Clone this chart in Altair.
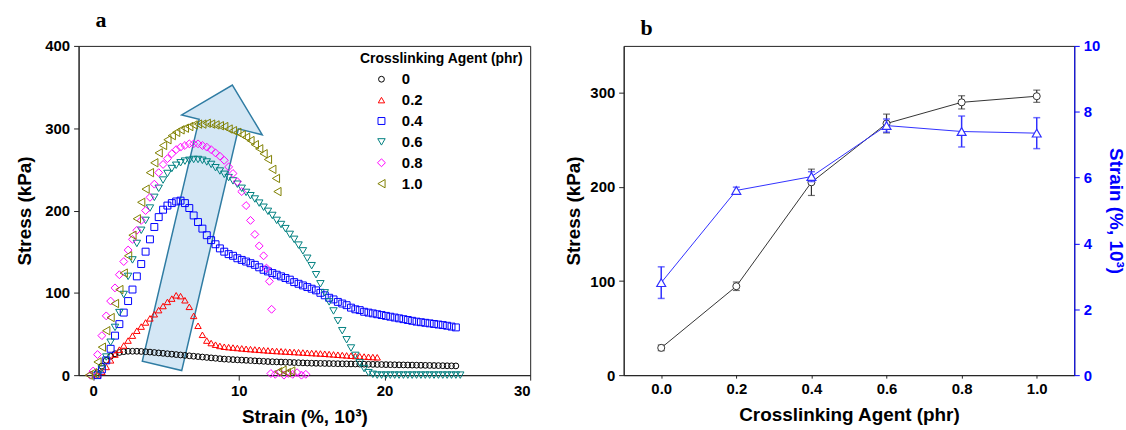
import altair as alt
import pandas as pd

N = None

# ---------------- Panel a: stress-strain curves ----------------
STRAIN_GRID = [0.0, 0.3, 0.6, 0.9, 1.2, 1.5, 1.8, 2.1, 2.4, 2.7,
               3.0, 3.3, 3.6, 3.9, 4.2, 4.5, 4.8, 5.1, 5.4, 5.7,
               6.0, 6.3, 6.6, 6.9, 7.2, 7.5, 7.8, 8.1, 8.4, 8.7,
               9.0, 9.3, 9.6, 9.9, 10.2, 10.5, 10.8, 11.1, 11.4, 11.7,
               12.0, 12.3, 12.6, 12.9, 13.2, 13.5, 13.8, 14.1, 14.4, 14.7,
               15.0, 15.3, 15.6, 15.9, 16.2, 16.5, 16.8, 17.1, 17.4, 17.7,
               18.0, 18.3, 18.6, 18.9, 19.2, 19.5, 19.8, 20.1, 20.4, 20.7,
               21.0, 21.3, 21.6, 21.9, 22.2, 22.5, 22.8, 23.1, 23.4, 23.7,
               24.0, 24.3, 24.6, 24.9, 25.2]

STRESS_0 = [N, 3, 11, 18, 23, 26, 27.5, 28.5, 29, 29,
            29, 28.8, 28.5, 28, 27.5, 27, 26.5, 26, 25.5, 25,
            24.5, 24, 23.5, 23, 22.5, 22, 21.5, 21, 20.5, 20,
            19.5, 19.2, 18.9, 18.6, 18.3, 18, 17.7, 17.4, 17.1, 16.8,
            16.5, 16.3, 16.1, 15.9, 15.7, 15.5, 15.3, 15.1, 14.9, 14.7,
            14.5, 14.4, 14.3, 14.2, 14.1, 14, 13.9, 13.8, 13.7, 13.6,
            13.5, 13.4, 13.3, 13.2, 13.1, 13, 12.9, 12.8, 12.7, 12.6,
            12.5, 12.4, 12.3, 12.2, 12.1, 12, 11.9, 11.8, 11.7, 11.6,
            11.5, 11.4, 11.3, 11.2, N]

STRESS_02 = [N, 0, 4, 10, 18, 25, 31, 36, 42, 48,
             54, 59, 64, 69, 74, 79, 84, 89, 93, 97,
             96, 91, 83, 72, 60, 49, 42, 39, 37, 35.5,
             34.5, 34, 33.5, 33, 32.5, 32, 31.6, 31.2, 30.8, 30.4,
             30, 29.6, 29.3, 29, 28.7, 28.4, 28.1, 27.8, 27.5, 27.2,
             26.9, 26.6, 26.3, 26, 25.6, 25.2, 24.8, 24.4, 24, 23.6,
             23.2, 22.9, 22.6, 22.3, 22, 21.7, N, N, N, N,
             N, N, N, N, N, N, N, N, N, N,
             N, N, N, N, N]

STRESS_04 = [N, 0, 7, 18, 32, 48, 62, 76, 90, 104,
             120, 135, 150, 165, 180, 192, 201, 206, 209, 211,
             212, 209, 203, 194, 186, 178, 170, 164, 159, 154,
             150, 147, 145, 142, 140, 138, 136, 134, 131, 128,
             126, 124, 122, 120, 118, 116, 113, 111, 109, 107,
             105, 103, 100, 97, 94, 92, 89, 87, 85, 82,
             80, 79, 77, 76, 75, 74, 73, 72, 71, 70,
             69, 68, 67, 66, 65, 64.3, 63.6, 62.9, 62.2, 61.5,
             60.8, 60, 59, 58, N]

STRESS_06 = [N, 0, 8, 22, 40, 58, 76, 98, 120, 140,
             160, 176, 188, 203, 216, 227, 237, 245, 251, 255,
             258, 260, 261, 262, 262, 261, 259, 256, 252, 248,
             244, 240, 236, 232, 227, 222, 218, 214, 209, 204,
             199, 194, 188, 183, 178, 171, 165, 158, 151, 142,
             133, 122, 111, 100, 89, 78, 66, 54, 43, 33,
             24, 15, 8, 3, 1, 0, 0, 0, 0, 0,
             0, 0, 0, 0, 0, 0, 0, 0, 0, 0,
             0, 0, 0, 0, 0]

STRESS_08 = [5, 25, 48, 72, 90, 106, 122, 138, 152, 165,
             176, 188, 200, 216, 232, 246, 256, 263, 269, 274,
             277, 279, 281, 281, 281, 279, 277, 274, 270, 266,
             261, 253, 245, 235, 223, 206, 188, 171, 157, 145,
             N, N, N, N, N, N, N, N, N, N,
             N, N, N, N, N, N, N, N, N, N,
             N, N, N, N, N, N, N, N, N, N,
             N, N, N, N, N, N, N, N, N, N,
             N, N, N, N, N]

STRESS_10 = [3, 16, 34, 54, 70, 87, 104, 124, 145, 170,
             190, 210, 226, 246, 258, 270, 279, 286, 291, 295,
             298, 300, 302, 304, 305, 305, 306, 305, 304, 303,
             302, 299, 297, 295, 292, 289, 285, 280, 275, 269,
             262, 250, N, N, N, N, N, N, N, N,
             N, N, N, N, N, N, N, N, N, N,
             N, N, N, N, N, N, N, N, N, N,
             N, N, N, N, N, N, N, N, N, N,
             N, N, N, N, N]

# scattered points off the main grid (ends of curves, fragments near zero)
EXTRA_08_STRAIN = [-0.2, 11.9, 12.1, 12.25, 12.2, 12.5, 12.8, 13.1, 13.4, 13.7, 14.0, 14.3, 14.6]
EXTRA_08_STRESS = [0, 130, 114, 80, 2, 1, 3, 0, 2, 1, 3, 0, 1]
EXTRA_10_STRAIN = [-0.3, 12.55, 12.65, 12.7, 13.0, 13.3, 13.6]
EXTRA_10_STRESS = [0, 239, 223, 4, 6, 3, 5]

AGENT_LABELS = ["0", "0.2", "0.4", "0.6", "0.8", "1.0"]
AGENT_COLORS = ["#000000", "#ff0000", "#0000ff", "#008080", "#ff00ff", "#808000"]
AGENT_SHAPES = ["circle", "triangle-up", "square", "triangle-down", "diamond", "triangle-left"]
AGENT_SIZES = [34, 70, 52, 70, 62, 70]

# decorative arrow (centre in data units)
ARROW_STRAIN = [7.51]
ARROW_STRESS = [179]
ARROW_PATH = ("M0.209,-1 L0.418,-0.652 L0.251,-0.693 L-0.146,1 "
              "L-0.422,0.934 L-0.024,-0.760 L-0.146,-0.791 Z")

# ---------------- Panel b: summary ----------------
AGENT_B = [0.0, 0.2, 0.4, 0.6, 0.8, 1.0]
STRESS_B = [29, 94.5, 205, 267.5, 290, 296.5]
STRESS_B_ERR = [3, 4.5, 14, 10, 7, 6.5]
STRAIN_B = [2.81, 5.61, 6.03, 7.58, 7.40, 7.35]
STRAIN_B_ERR = [0.48, 0.1, 0.15, 0.2, 0.47, 0.47]

# ---------------- build tables ----------------
series = [STRESS_0, STRESS_02, STRESS_04, STRESS_06, STRESS_08, STRESS_10]
rows = []
for k, (lab, vals) in enumerate(zip(AGENT_LABELS, series)):
    for s, v in zip(STRAIN_GRID, vals):
        if v is not None:
            rows.append({"strain": s, "stress": v, "agent": lab, "k": k})
    if lab == "0.8":
        for s, v in zip(EXTRA_08_STRAIN, EXTRA_08_STRESS):
            rows.append({"strain": s, "stress": v, "agent": lab, "k": k})
    if lab == "1.0":
        for s, v in zip(EXTRA_10_STRAIN, EXTRA_10_STRESS):
            rows.append({"strain": s, "stress": v, "agent": lab, "k": k})
df_a = pd.DataFrame(rows)
df_arrow = pd.DataFrame({"strain": ARROW_STRAIN, "stress": ARROW_STRESS})

df_b = pd.DataFrame({
    "agent": AGENT_B,
    "stress": STRESS_B,
    "s_lo": [v - e for v, e in zip(STRESS_B, STRESS_B_ERR)],
    "s_hi": [v + e for v, e in zip(STRESS_B, STRESS_B_ERR)],
    "strain": STRAIN_B,
    "e_lo": [v - e for v, e in zip(STRAIN_B, STRAIN_B_ERR)],
    "e_hi": [v + e for v, e in zip(STRAIN_B, STRAIN_B_ERR)],
})

FONT = "Liberation Sans"
W, H = 454, 331

x_a = alt.X("strain:Q", scale=alt.Scale(domain=[-1, 30], nice=False, zero=False),
            axis=alt.Axis(values=[0, 10, 20, 30], title="Strain (%, 10³)",
                          labelPadding=3, titlePadding=10))
y_a = alt.Y("stress:Q", scale=alt.Scale(domain=[0, 400], nice=False),
            axis=alt.Axis(values=[0, 100, 200, 300, 400], title="Stress (kPa)",
                          labelPadding=4, titlePadding=10))

arrow = alt.Chart(df_arrow).mark_point(
    shape=ARROW_PATH, size=82369, filled=True, fill="#d4e7f5",
    stroke="#2f7ca3", strokeWidth=1.5, opacity=1
).encode(x=x_a, y=y_a)

legend_def = alt.Legend(
    title="Crosslinking Agent (phr)", orient="top-right", offset=5,
    titleFont=FONT, titleFontSize=14, titleFontWeight="bold", titleColor="black",
    labelFont=FONT, labelFontSize=15, labelFontWeight="bold", labelColor="black",
    symbolSize=40, symbolStrokeWidth=1, symbolOffset=14, labelOffset=13,
    rowPadding=5, titlePadding=6, padding=1
)

points = alt.Chart(df_a).mark_point(filled=False, strokeWidth=1, opacity=1).encode(
    x=x_a, y=y_a,
    color=alt.Color("agent:N", scale=alt.Scale(domain=AGENT_LABELS, range=AGENT_COLORS),
                    legend=legend_def),
    shape=alt.Shape("agent:N", scale=alt.Scale(domain=AGENT_LABELS, range=AGENT_SHAPES),
                    legend=legend_def),
    size=alt.Size("agent:N", scale=alt.Scale(domain=AGENT_LABELS, range=AGENT_SIZES),
                  legend=None),
    order=alt.Order("k:Q"),
)

panel_a = alt.layer(arrow, points).properties(
    width=W, height=H,
    title=alt.TitleParams("a", anchor="start", frame="group", font="Liberation Serif",
                          fontSize=22, fontWeight="bold", color="black",
                          baseline="alphabetic", offset=-10, dx=17)
)

# panel b
BLACK_B = "#333333"
BLUE_B = "#3030ff"
x_b = alt.X("agent:Q", scale=alt.Scale(domain=[-0.1, 1.1], nice=False, zero=False),
            axis=alt.Axis(values=AGENT_B, format=".1f", title="Crosslinking Agent (phr)",
                          labelPadding=3, titlePadding=10, tickSize=3))
left_axis = alt.Axis(values=[0, 100, 200, 300], title="Stress (kPa)",
                     labelPadding=4, titlePadding=6)
right_axis = alt.Axis(values=[0, 2, 4, 6, 8, 10], title="Strain (%, 10³)", orient="right",
                      domainColor="#0000ff", tickColor="#0000ff", labelColor="#0000ff",
                      titleColor="#0000ff", labelPadding=4, titlePadding=6)
ys = alt.Scale(domain=[0, 350], nice=False)
ye = alt.Scale(domain=[0, 10], nice=False)

base_b = alt.Chart(df_b)
left_layer = alt.layer(
    base_b.mark_line(color=BLACK_B, strokeWidth=1).encode(
        x=x_b, y=alt.Y("stress:Q", scale=ys, axis=left_axis)),
    base_b.mark_errorbar(ticks=True, size=7, thickness=1.2, color=BLACK_B).encode(
        x=x_b, y=alt.Y("s_lo:Q", scale=ys, axis=left_axis), y2="s_hi:Q"),
    base_b.mark_point(shape="circle", filled=True, fill="white", stroke=BLACK_B,
                      strokeWidth=1, size=50, opacity=1).encode(
        x=x_b, y=alt.Y("stress:Q", scale=ys, axis=left_axis)),
)
right_layer = alt.layer(
    base_b.mark_line(color=BLUE_B, strokeWidth=1).encode(
        x=x_b, y=alt.Y("strain:Q", scale=ye, axis=right_axis)),
    base_b.mark_errorbar(ticks=True, size=7, thickness=1.5, color=BLUE_B).encode(
        x=x_b, y=alt.Y("e_lo:Q", scale=ye, axis=right_axis), y2="e_hi:Q"),
    base_b.mark_point(shape="triangle-up", filled=True, fill="white", stroke=BLUE_B,
                      strokeWidth=1.2, size=80, opacity=1).encode(
        x=x_b, y=alt.Y("strain:Q", scale=ye, axis=right_axis)),
)
panel_b = alt.layer(left_layer, right_layer).resolve_scale(y="independent").properties(
    width=453, height=H,
    title=alt.TitleParams("b", anchor="start", frame="group", font="Liberation Serif",
                          fontSize=22, fontWeight="bold", color="black",
                          baseline="alphabetic", offset=-18, dx=17)
)

chart = alt.hconcat(panel_a, panel_b, spacing=33).resolve_legend(
    color="independent", shape="independent", size="independent"
).properties(
    padding={"left": 15, "top": 7, "right": 0, "bottom": 0},
    background="white",
).configure_view(
    stroke="#222222", strokeWidth=1
).configure_axis(
    labelFont=FONT, labelFontSize=15, labelFontWeight="bold", labelColor="black",
    titleFont=FONT, titleFontSize=19, titleFontWeight="bold", titleColor="black",
    domainColor="#222222", tickColor="#222222", grid=False, tickSize=5, domainWidth=1
)

chart.save("out.html", embed_options={"renderer": "svg", "actions": False})
